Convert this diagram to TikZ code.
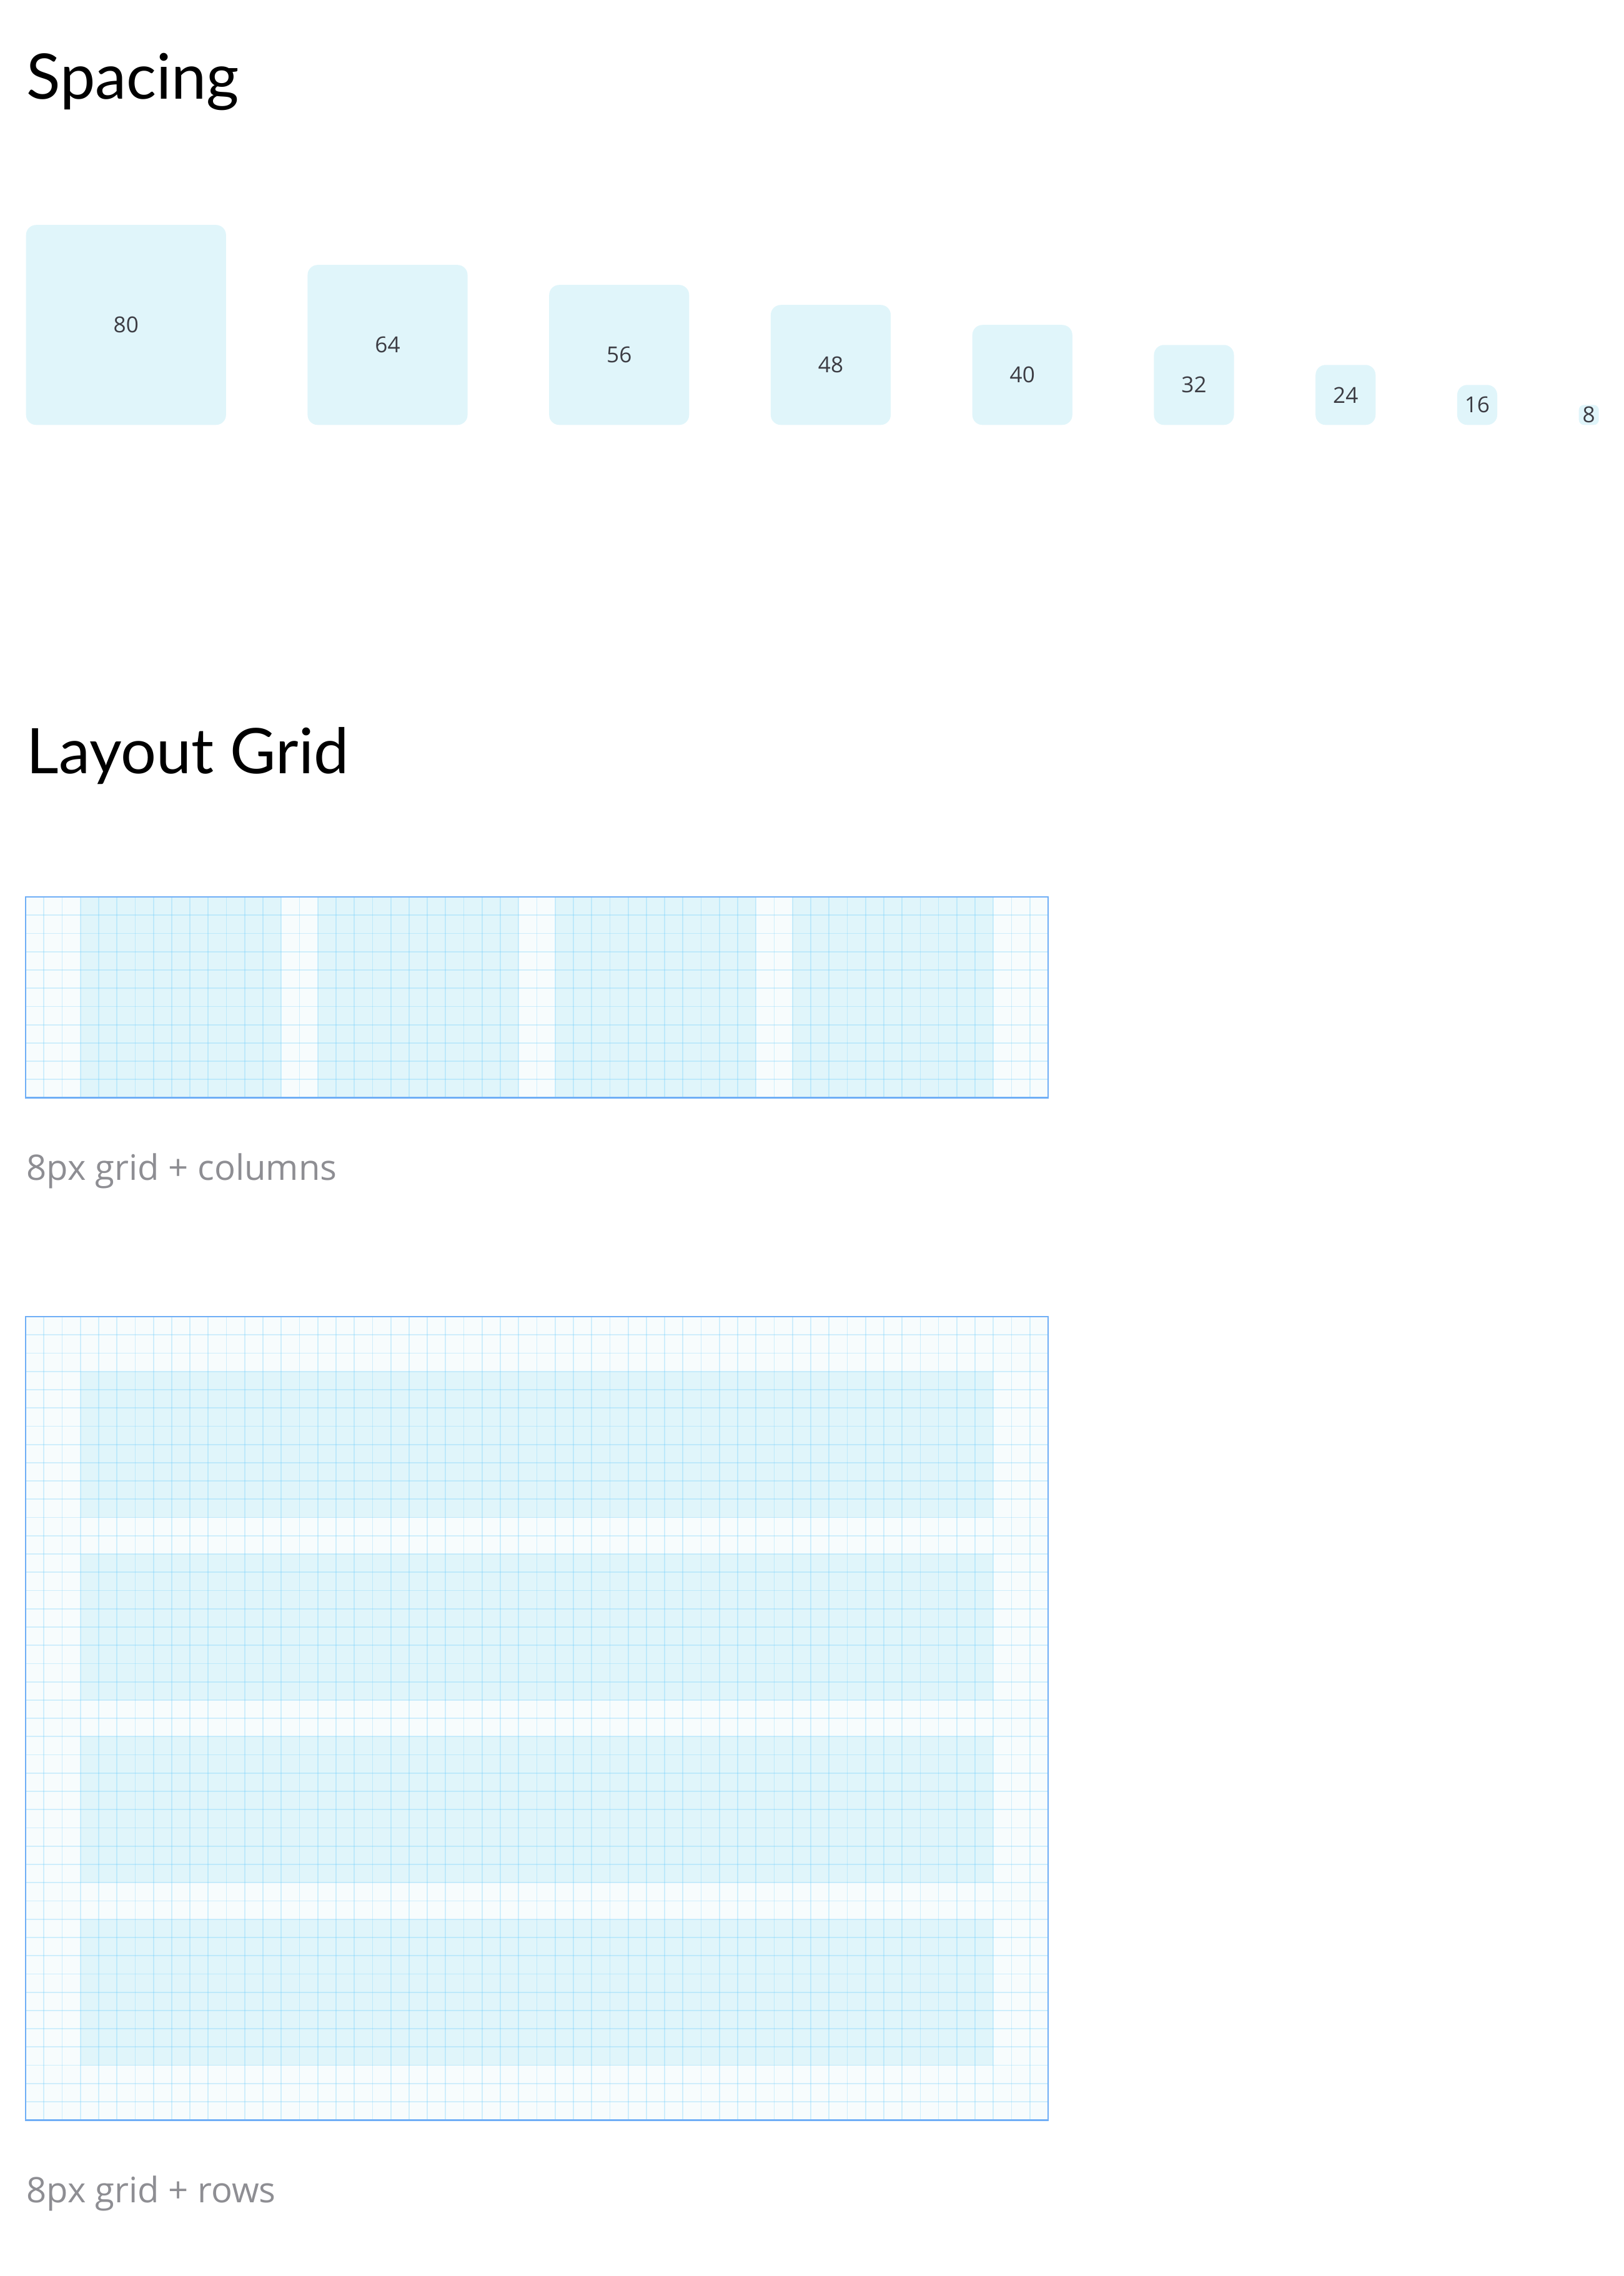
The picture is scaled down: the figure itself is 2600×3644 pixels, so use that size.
\documentclass[tikz,border=0pt]{standalone}
\usepackage{fontspec}
\setmainfont{Open Sans}
\newfontfamily\headfont{Lato}
\definecolor{boxfill}{HTML}{E0F5FA}
\definecolor{gridbg}{HTML}{F7FCFD}
\definecolor{gridcyan}{HTML}{5AC8FA}
\definecolor{frameblue}{HTML}{6FAEF6}
\definecolor{numtext}{HTML}{3C3C43}
\definecolor{captext}{HTML}{8E8E93}
\def\cell{29.232}
\begin{document}
\begin{tikzpicture}[
  x=0.01cm, y=-0.01cm,
  spacebox/.style={fill=boxfill, inner sep=0pt, anchor=south west, text=numtext,
    font=\fontsize{10}{12}\selectfont},
  heading/.style={anchor=base west, inner sep=0pt, font=\headfont\fontsize{28.6}{34}\selectfont},
  caption/.style={anchor=base west, inner sep=0pt, text=captext, font=\fontsize{16}{19}\selectfont},
  gridline/.style={draw=gridcyan, draw opacity=0.25, line width=0.5pt},
  frame/.style={draw=frameblue, line width=0.8pt}]
  \useasboundingbox (0,0) rectangle (2600,3644);

  \node[heading] (spacing) at (42,158) {Spacing};
  \foreach \v/\x in {80/41, 64/491.75, 56/878.5, 48/1233.25, 40/1556,
                     32/1846.75, 24/2105.5, 16/2332.25, 8/2527} {
    \pgfmathsetlengthmacro\rc{min(16,\v)*0.01cm}
    \node[spacebox, minimum size=\v*0.04cm, rounded corners=\rc] (sp\v) at (\x,681) {\v};
  }

  \node[heading] (layout) at (42,1238) {Layout Grid};

  % 8px grid + columns
  \begin{scope}[shift={(41,1436)}]
    \fill[gridbg] (0,0) rectangle (56*\cell,11*\cell);
    \foreach \k in {0,...,3}
      \fill[boxfill] ({(3+13*\k)*\cell},0) rectangle ({(14+13*\k)*\cell},11*\cell);
    \foreach \i in {1,...,55}
      \draw[gridline] (\i*\cell,0) -- (\i*\cell,11*\cell);
    \foreach \j in {1,...,10}
      \draw[gridline] (0,\j*\cell) -- (56*\cell,\j*\cell);
    \draw[frame] (0,0) rectangle (56*\cell,11*\cell);
  \end{scope}
  \node[caption] (colcap) at (42,1889) {8px grid + columns};

  % 8px grid + rows
  \begin{scope}[shift={(41,2108)}]
    \fill[gridbg] (0,0) rectangle (56*\cell,44*\cell);
    \foreach \k in {0,...,3}
      \fill[boxfill] (3*\cell,{(3+10*\k)*\cell}) rectangle (53*\cell,{(11+10*\k)*\cell});
    \foreach \i in {1,...,55}
      \draw[gridline] (\i*\cell,0) -- (\i*\cell,44*\cell);
    \foreach \j in {1,...,43}
      \draw[gridline] (0,\j*\cell) -- (56*\cell,\j*\cell);
    \draw[frame] (0,0) rectangle (56*\cell,44*\cell);
  \end{scope}
  \node[caption] (rowcap) at (42,3526) {8px grid + rows};
\end{tikzpicture}
\end{document}
